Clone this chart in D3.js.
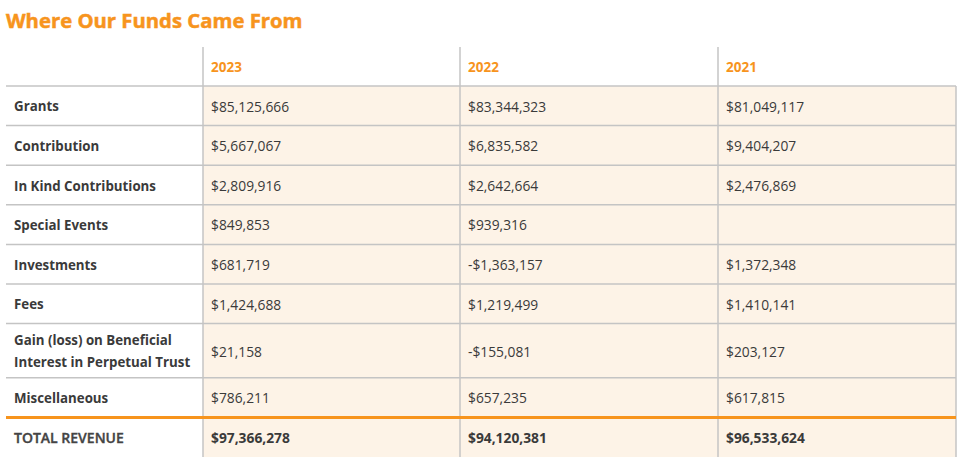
<!DOCTYPE html>
<html><head><meta charset="utf-8">
<script src="https://cdn.jsdelivr.net/npm/d3@7"></script>
<style>
html,body{margin:0;padding:0;background:#fff;}
svg{display:block;font-family:"Open Sans",sans-serif;}
</style></head>
<body><svg id="chart" width="973" height="464"></svg>
<script>
const title = "Where Our Funds Came From";
const years = ["2023", "2022", "2021"];
const categories = ["Grants", "Contribution", "In Kind Contributions", "Special Events", "Investments", "Fees", "Gain (loss) on Beneficial\nInterest in Perpetual Trust", "Miscellaneous"];
const values2023 = [85125666, 5667067, 2809916, 849853, 681719, 1424688, 21158, 786211];
const values2022 = [83344323, 6835582, 2642664, 939316, -1363157, 1219499, -155081, 657235];
const values2021 = [81049117, 9404207, 2476869, null, 1372348, 1410141, 203127, 617815];
const totalLabel = "TOTAL REVENUE";
const totals = [97366278, 94120381, 96533624];

const svg = d3.select("#chart");
const orange = "#F7941D", grid = "#c4c4c4", cream = "#FDF3E7", ink = "#3a3a3a";

// columns
const colKeys = ["label", ...years];
const colWidths = [197, 257, 258, 238];
const colX = d3.scaleOrdinal().domain(colKeys).range(d3.cumsum([0, ...colWidths.slice(0, -1)]).map(v => 6 + v));
const colW = d3.scaleOrdinal().domain(colKeys).range(colWidths);
const tableLeft = 6, tableRight = 6 + d3.sum(colWidths);

// rows (units: 1 per single-line row)
const rows = categories.map((c, i) => ({label: c, vals: [values2023[i], values2022[i], values2021[i]], total: false}));
rows.push({label: totalLabel, vals: totals, total: true});
const units = rows.map(r => r.label.includes("\n") ? 1.37 : 1);
const starts = d3.cumsum([0, ...units.slice(0, -1)]);
const y = d3.scaleLinear().domain([0, d3.sum(units)]).range([86, 86 + 39.6 * d3.sum(units)]);
rows.forEach((r, i) => { r.y0 = y(starts[i]); r.y1 = y(starts[i] + units[i]); });
const tableBottom = rows[rows.length - 1].y1;
const headerTop = 47;

const fmt = v => v == null ? "" : (v < 0 ? "-$" : "$") + d3.format(",")(Math.abs(v));

// title
svg.append("text").attr("x", 6).attr("y", 28).attr("fill", orange)
  .attr("stroke", orange).attr("stroke-width", 0.5)
  .attr("font-size", 20.3).attr("font-weight", 700).text(title);

// cream backgrounds
rows.forEach(r => {
  years.forEach(yr => {
    svg.append("rect").attr("x", colX(yr)).attr("y", r.y0).attr("width", colW(yr)).attr("height", r.y1 - r.y0).attr("fill", cream);
  });
});

// horizontal lines
const hl = [86, ...rows.slice(0, -1).map(r => r.y1)];
hl.forEach((yy, i) => {
  const isOrange = i === rows.length - 1;
  svg.append("line").attr("x1", tableLeft).attr("x2", tableRight).attr("y1", yy).attr("y2", yy)
    .attr("stroke", isOrange ? orange : grid).attr("stroke-width", isOrange ? 3 : 1.5);
});

// vertical lines
years.forEach(yr => {
  svg.append("line").attr("x1", colX(yr)).attr("x2", colX(yr)).attr("y1", headerTop).attr("y2", tableBottom)
    .attr("stroke", grid).attr("stroke-width", 1.5);
});
svg.append("line").attr("x1", tableRight).attr("x2", tableRight).attr("y1", 86).attr("y2", tableBottom)
  .attr("stroke", grid).attr("stroke-width", 1.5);
// redraw orange line on top
const oy = hl[rows.length - 1];
svg.append("line").attr("x1", tableLeft).attr("x2", tableRight).attr("y1", oy).attr("y2", oy).attr("stroke", orange).attr("stroke-width", 3);

// header
years.forEach(yr => {
  svg.append("text").attr("x", colX(yr) + 8).attr("y", 67).attr("dy", "0.35em")
    .attr("fill", orange).attr("font-size", 13.5).attr("font-weight", 700).text(yr);
});

// rows text
rows.forEach(r => {
  const cy = (r.y0 + r.y1) / 2 + 1;
  const lines = r.label.split("\n");
  const t = svg.append("text").attr("x", 14).attr("fill", r.total ? "#444" : ink)
    .attr("font-size", r.total ? 14 : 13.3).attr("font-weight", r.total ? 600 : 700);
  if (r.total) t.attr("stroke", "#444").attr("stroke-width", 0.35);
  lines.forEach((ln, j) => {
    t.append("tspan").attr("x", 14).attr("y", cy + (j - (lines.length - 1) / 2) * 22).attr("dy", "0.35em").text(ln);
  });
  r.vals.forEach((v, k) => {
    svg.append("text").attr("x", colX(years[k]) + 8).attr("y", cy).attr("dy", "0.35em")
      .attr("fill", ink).attr("font-size", 13.8).attr("font-weight", r.total ? 700 : 400).text(fmt(v));
  });
});
</script></body></html>
